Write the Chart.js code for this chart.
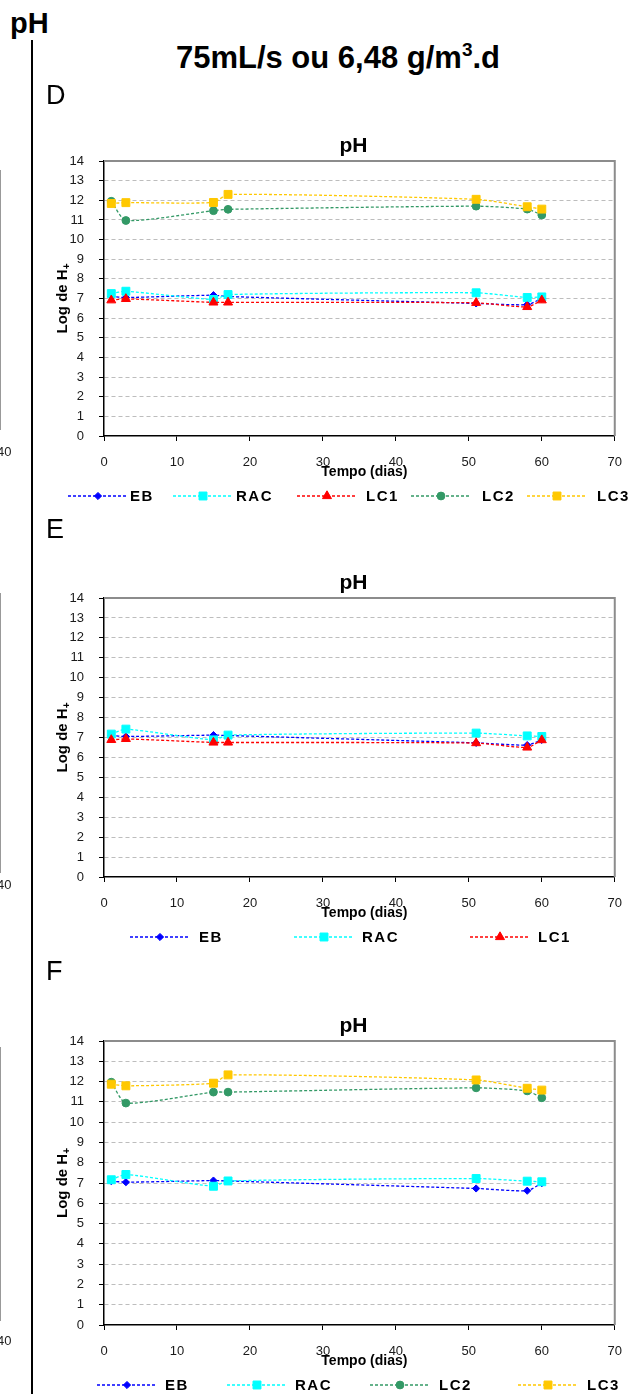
<!DOCTYPE html>
<html><head><meta charset="utf-8">
<script src="https://cdn.jsdelivr.net/npm/chart.js@4.4.1/dist/chart.umd.min.js"></script>
<style>
html,body{margin:0;padding:0;background:#fff;}
body{width:636px;height:1394px;position:relative;overflow:hidden;font-family:'Liberation Sans',Arial,sans-serif;color:#000;}
.abs{position:absolute;white-space:nowrap;line-height:1;}
canvas{position:absolute;left:0;}
</style></head><body>
<canvas id="cD" width="636" height="420" style="top:100px"></canvas>
<canvas id="cE" width="636" height="420" style="top:540px"></canvas>
<canvas id="cF" width="636" height="409" style="top:985px"></canvas>

<div class="abs" style="left:10px;top:9px;font-weight:bold;font-size:29px;">pH</div>
<div class="abs" style="left:0;width:676px;text-align:center;top:42px;font-weight:bold;font-size:31px;">75mL/s ou 6,48 g/m<sup style="font-size:19px;vertical-align:12px;line-height:0">3</sup>.d</div>
<div class="abs" style="left:31px;top:40px;width:2px;height:1354px;background:#000;"></div>
<div class="abs" style="left:46px;top:82px;font-size:27px;">D</div>
<div class="abs" style="left:46px;top:516px;font-size:27px;">E</div>
<div class="abs" style="left:46px;top:958px;font-size:27px;">F</div>

<div class="abs" style="left:0;top:170px;width:1px;height:260px;background:#999;"></div>
<div class="abs" style="left:0;top:593px;width:1px;height:280px;background:#999;"></div>
<div class="abs" style="left:0;top:1047px;width:1px;height:274px;background:#999;"></div>
<div class="abs" style="left:-3px;top:445px;font-size:13px;color:#222;">40</div>
<div class="abs" style="left:-3px;top:878px;font-size:13px;color:#222;">40</div>
<div class="abs" style="left:-3px;top:1334px;font-size:13px;color:#222;">40</div>

<script>
// ---- data ----
const days = [1, 3, 15, 17, 51, 58, 60];
const xTickValues = [0, 10, 20, 30, 40, 50, 60, 70];
const yTickValues = [0,1,2,3,4,5,6,7,8,9,10,11,12,13,14];

const D_EB  = [7.10, 7.05, 7.17, 7.10, 6.75, 6.69, 7.00];
const D_RAC = [7.25, 7.37, 6.95, 7.20, 7.29, 7.05, 7.08];
const D_LC1 = [6.91, 6.98, 6.80, 6.80, 6.78, 6.57, 6.91];
const D_LC2 = [11.95, 10.97, 11.47, 11.54, 11.70, 11.55, 11.25];
const D_LC3 = [11.84, 11.88, 11.89, 12.30, 12.05, 11.67, 11.55];

const E_EB  = [7.10, 7.05, 7.12, 7.10, 6.73, 6.62, 6.88];
const E_RAC = [7.17, 7.42, 6.88, 7.12, 7.22, 7.08, 7.05];
const E_LC1 = [6.88, 6.93, 6.75, 6.75, 6.72, 6.50, 6.87];

const F_EB  = [7.09, 7.04, 7.12, 7.10, 6.73, 6.62, 6.99];
const F_RAC = [7.16, 7.42, 6.84, 7.10, 7.22, 7.09, 7.06];
const F_LC2 = [11.97, 10.94, 11.48, 11.48, 11.69, 11.54, 11.20];
const F_LC3 = [11.87, 11.79, 11.92, 12.33, 12.08, 11.67, 11.58];

const chartTitle = 'pH';
const xTitle = 'Tempo (dias)';
const yTitle = 'Log de H';
const yTitleSub = '+';

// ---- styles ----
const FONT = "'Liberation Sans', Arial, sans-serif";
const STYLE = {
  EB:  {color:'#0000FF', point:'rectRot',  r:3.6},
  RAC: {color:'#00FFFF', point:'rect',     r:5.6},
  LC1: {color:'#FF0000', point:'triangle', r:5.2},
  LC2: {color:'#339966', point:'circle',   r:3.9},
  LC3: {color:'#FFC800', point:'rect',     r:5.6}
};
const ALL = ['EB','RAC','LC1','LC2','LC3'];

const panels = [
  {canvas:'cD', padTop:61, xH:84, series:{EB:D_EB, RAC:D_RAC, LC1:D_LC1, LC2:D_LC2, LC3:D_LC3},
   legend:[['EB',98,130],['RAC',203,236],['LC1',327,366],['LC2',441,482],['LC3',557,597]]},
  {canvas:'cE', padTop:58, xH:83, series:{EB:E_EB, RAC:E_RAC, LC1:E_LC1},
   legend:[['EB',160,199],['RAC',324,362],['LC1',500,538]]},
  {canvas:'cF', padTop:56, xH:69, series:{EB:F_EB, RAC:F_RAC, LC2:F_LC2, LC3:F_LC3},
   legend:[['EB',127,165],['RAC',257,295],['LC2',400,439],['LC3',548,587]]}
];

const deco = {
  id:'deco',
  beforeDatasetsDraw(chart){
    const {ctx, chartArea:a} = chart;
    ctx.save();
    ctx.strokeStyle = '#8c8c8c'; ctx.lineWidth = 2;
    ctx.beginPath();
    ctx.moveTo(a.left, a.top); ctx.lineTo(a.right, a.top); ctx.lineTo(a.right, a.bottom);
    ctx.stroke();
    ctx.restore();
  },
  afterDraw(chart, args, opts){
    const {ctx, chartArea:a} = chart;
    ctx.save();
    ctx.fillStyle = '#000';
    ctx.font = 'bold 21px ' + FONT;
    ctx.textAlign = 'center'; ctx.textBaseline = 'alphabetic';
    ctx.fillText(chartTitle, (a.left + a.right)/2 - 6, a.top - 9);
    ctx.font = 'bold 14px ' + FONT;
    ctx.textBaseline = 'middle';
    ctx.fillText(xTitle, (a.left + a.right)/2 + 5, a.bottom + 36);
    ctx.save();
    ctx.translate(62, (a.top + a.bottom)/2);
    ctx.rotate(-Math.PI/2);
    ctx.font = 'bold 15px ' + FONT;
    const w1 = ctx.measureText(yTitle).width;
    ctx.font = 'bold 10px ' + FONT;
    const w2 = ctx.measureText(yTitleSub).width;
    const x0 = -(w1 + w2)/2;
    ctx.textAlign = 'left'; ctx.textBaseline = 'alphabetic';
    ctx.font = 'bold 15px ' + FONT;
    ctx.fillText(yTitle, x0, 5);
    ctx.font = 'bold 10px ' + FONT;
    ctx.fillText(yTitleSub, x0 + w1, 8);
    ctx.restore();
    const ly = a.bottom + opts.legendOffset;
    opts.items.forEach(([name, cx, tx]) => {
      const s = STYLE[name];
      ctx.save();
      ctx.strokeStyle = s.color; ctx.lineWidth = 1.3; ctx.setLineDash([3,2]);
      ctx.beginPath(); ctx.moveTo(cx - 30, ly); ctx.lineTo(cx + 30, ly); ctx.stroke();
      ctx.setLineDash([]);
      ctx.fillStyle = s.color; ctx.strokeStyle = s.color; ctx.lineWidth = 1;
      Chart.helpers.drawPoint(ctx, {pointStyle:s.point, radius:s.r, rotation:0, borderWidth:1}, cx, ly);
      ctx.restore();
      ctx.fillStyle = '#000';
      ctx.font = 'bold 15px ' + FONT;
      ctx.letterSpacing = '1.5px';
      ctx.textAlign = 'left'; ctx.textBaseline = 'middle';
      ctx.fillText(name, tx, ly + 1);
      ctx.letterSpacing = '0px';
    });
    ctx.restore();
  }
};

panels.forEach(p => {
  const names = ALL.filter(n => p.series[n]);
  const datasets = names.map((n, i) => {
    const s = STYLE[n];
    return {
      label:n,
      data: days.map((d, k) => ({x:d, y:p.series[n][k]})),
      borderColor:s.color, backgroundColor:s.color,
      borderWidth:1.3, borderDash:[3,2],
      pointStyle:s.point, pointRadius:s.r, pointHoverRadius:s.r,
      pointBackgroundColor:s.color, pointBorderColor:s.color, pointBorderWidth:1,
      tension:0.2, fill:false, order:names.length - i
    };
  });
  new Chart(document.getElementById(p.canvas), {
    type:'line',
    data:{datasets},
    options:{
      responsive:false, animation:false, devicePixelRatio:1,
      layout:{padding:{top:p.padTop, right:19, left:0, bottom:0}},
      plugins:{legend:{display:false}, tooltip:{enabled:false}, title:{display:false},
        deco:{items:p.legend, legendOffset:60}},
      scales:{
        x:{type:'linear', min:0, max:70,
          afterBuildTicks:s => { s.ticks = xTickValues.map(v => ({value:v})); },
          ticks:{padding:14, maxRotation:0, autoSkip:false, color:'#1a1a1a', font:{family:FONT, size:13}},
          grid:{display:true, drawOnChartArea:false, drawTicks:true, tickLength:5, tickColor:'#000', tickWidth:1},
          border:{display:true, color:'#000', width:1.5},
          afterFit:s => { s.height = p.xH; }
        },
        y:{min:0, max:14,
          afterBuildTicks:s => { s.ticks = yTickValues.map(v => ({value:v})); },
          ticks:{padding:15, autoSkip:false, color:'#1a1a1a', font:{family:FONT, size:13}},
          grid:{color:c => (c.tick && (c.tick.value === 0 || c.tick.value === 14)) ? 'rgba(0,0,0,0)' : '#bdbdbd',
                lineWidth:1, drawTicks:true, tickLength:5, tickColor:'#000', tickWidth:1},
          border:{display:true, color:'#000', width:1.5, dash:[4,3]},
          afterFit:s => { s.width = 104; }
        }
      }
    },
    plugins:[deco]
  });
});
</script>
</body></html>
